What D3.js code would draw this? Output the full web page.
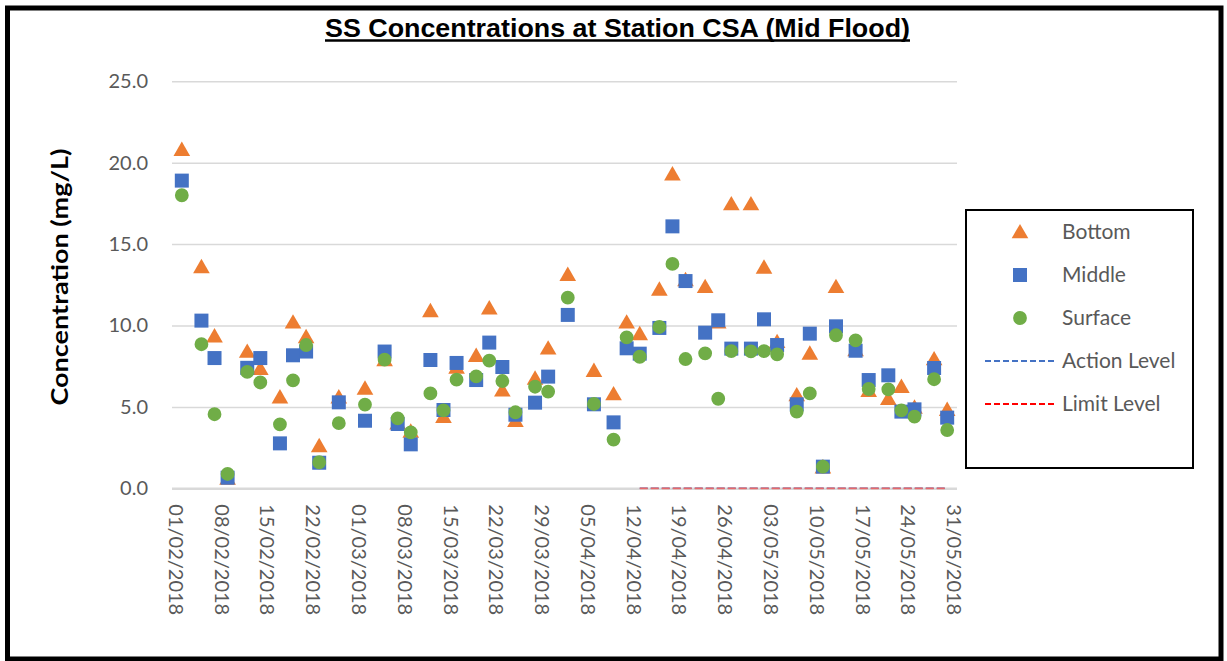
<!DOCTYPE html>
<html>
<head>
<meta charset="utf-8">
<script src="https://cdn.jsdelivr.net/npm/d3@7"></script>
<style>
  html, body { margin: 0; padding: 0; background: #fff; }
  svg { display: block; }
</style>
</head>
<body>
<svg id="chart" width="1227" height="661"></svg>
<script>
// Sampling dates (mid flood) and SS readings in mg/L at each depth
const sampleDates = [
  "02/02/2018","05/02/2018","07/02/2018","09/02/2018","12/02/2018","14/02/2018",
  "17/02/2018","19/02/2018","21/02/2018","23/02/2018","26/02/2018","02/03/2018",
  "05/03/2018","07/03/2018","09/03/2018","12/03/2018","14/03/2018","16/03/2018",
  "19/03/2018","21/03/2018","23/03/2018","25/03/2018","28/03/2018","30/03/2018",
  "02/04/2018","06/04/2018","09/04/2018","11/04/2018","13/04/2018","16/04/2018",
  "18/04/2018","20/04/2018","23/04/2018","25/04/2018","27/04/2018","30/04/2018",
  "02/05/2018","04/05/2018","07/05/2018","09/05/2018","11/05/2018","13/05/2018",
  "16/05/2018","18/05/2018","21/05/2018","23/05/2018","25/05/2018","28/05/2018",
  "30/05/2018"
];
const bottomValues = [
  20.8, 13.6, 9.35, 0.6, 8.4, 7.35,
  5.6, 10.2, 9.3, 2.6, 5.6, 6.14,
  7.88, 4.0, 3.5, 10.9, 4.4, 7.43,
  8.15, 11.07, 6.02, 4.15, 6.75, 8.6,
  13.12, 7.23, 5.79, 10.2, 9.48, 12.22,
  19.3, 12.8, 12.38, 10.2, 17.46, 17.46,
  13.57, 9.0, 5.73, 8.29, 1.3, 12.38,
  8.5, 6.0, 5.5, 6.24, 4.97, 7.94,
  4.83
];
const middleValues = [
  18.9, 10.3, 8.0, 0.65, 7.4, 8.0,
  2.76, 8.17, 8.4, 1.57, 5.28, 4.15,
  8.4, 3.95, 2.7, 7.88, 4.81, 7.7,
  6.65, 8.95, 7.45, 4.52, 5.26, 6.86,
  10.65, 5.16, 4.05, 8.6, 8.27, 9.85,
  16.09, 12.73, 9.56, 10.32, 8.58, 8.58,
  10.38, 8.8, 5.16, 9.5, 1.33, 9.95,
  8.45, 6.65, 6.94, 4.71, 4.85, 7.39,
  4.34
];
const surfaceValues = [
  18.0, 8.85, 4.55, 0.88, 7.15, 6.5,
  3.93, 6.63, 8.8, 1.6, 4.0, 5.14,
  7.9, 4.3, 3.44, 5.83, 4.79, 6.67,
  6.88, 7.84, 6.59, 4.67, 6.24, 5.94,
  11.71, 5.18, 2.99, 9.27, 8.08, 9.91,
  13.78, 7.94, 8.29, 5.5, 8.43, 8.41,
  8.43, 8.23, 4.71, 5.83, 1.33, 9.4,
  9.09, 6.1, 6.08, 4.79, 4.4, 6.7,
  3.58
];

// Compliance criteria series (plotted from 13/04 onwards)
const levelDates = ["13/04/2018", "30/05/2018"];
const actionLevelValues = [0, 0];
const limitLevelValues = [0, 0];

// Axis settings
const axisStart = "01/02/2018";
const axisEnd = "01/06/2018";
const tickDates = [
  "01/02/2018","08/02/2018","15/02/2018","22/02/2018","01/03/2018","08/03/2018",
  "15/03/2018","22/03/2018","29/03/2018","05/04/2018","12/04/2018","19/04/2018",
  "26/04/2018","03/05/2018","10/05/2018","17/05/2018","24/05/2018","31/05/2018"
];
const yTicks = [0, 5, 10, 15, 20, 25];

const chartTitle = "SS Concentrations at Station CSA (Mid Flood)";
const yTitle = "Concentration (mg/L)";

const parse = d3.timeParse("%d/%m/%Y");
// each day occupies one slot; marks sit at the middle of their day
const mid = s => d3.timeHour.offset(parse(s), 12);

const svg = d3.select("#chart");
const grey = "#595959";
const labelFont = "Lato, 'Open Sans', sans-serif";

const x = d3.scaleTime()
  .domain([parse(axisStart), parse(axisEnd)])
  .range([172, 957]);
const y = d3.scaleLinear()
  .domain([0, 25])
  .range([488.3, 81.3]);

// outer frame
svg.append("rect")
  .attr("x", 7.5).attr("y", 8)
  .attr("width", 1213.5).attr("height", 651)
  .attr("fill", "#fff")
  .attr("stroke", "#000").attr("stroke-width", 5);

// title (condensed bold, underlined)
svg.append("text")
  .attr("x", 325).attr("y", 37)
  .attr("textLength", 585).attr("lengthAdjust", "spacingAndGlyphs")
  .attr("font-family", "'Liberation Sans Narrow', 'Arial Narrow', 'Liberation Sans', Arial, sans-serif")
  .attr("font-weight", "bold").attr("font-size", 26)
  .attr("fill", "#000")
  .text(chartTitle);
svg.append("line")
  .attr("x1", 325).attr("x2", 910)
  .attr("y1", 40.5).attr("y2", 40.5)
  .attr("stroke", "#000").attr("stroke-width", 2.4);

// horizontal gridlines
const yAxis = d3.axisLeft(y).tickValues(yTicks)
  .tickSize(-(x.range()[1] - x.range()[0]))
  .tickPadding(24)
  .tickFormat(d3.format(".1f"));
const gy = svg.append("g").attr("transform", `translate(${x.range()[0]},0)`).call(yAxis);
gy.select(".domain").remove();
gy.selectAll(".tick line")
  .attr("stroke", "#d9d9d9")
  .attr("stroke-width", d => d === 0 ? 2.5 : 1.5);
gy.selectAll(".tick text")
  .attr("font-family", labelFont)
  .attr("font-size", 20)
  .attr("fill", grey);

// y axis title
svg.append("text")
  .attr("transform", "translate(60,277) rotate(-90)")
  .attr("text-anchor", "middle")
  .attr("dy", "0.35em")
  .attr("textLength", 257).attr("lengthAdjust", "spacingAndGlyphs")
  .attr("font-family", labelFont)
  .attr("font-weight", "bold").attr("font-size", 23)
  .attr("fill", "#000")
  .text(yTitle);

// x axis date labels, rotated to read downward
const xAxis = d3.axisBottom(x)
  .tickValues(tickDates.map(mid))
  .tickSize(0)
  .tickFormat(d3.timeFormat("%d/%m/%Y"));
const gx = svg.append("g").attr("transform", `translate(0,${y(0)})`).call(xAxis);
gx.select(".domain").remove();
gx.selectAll(".tick text")
  .attr("font-family", labelFont)
  .attr("font-size", 20)
  .attr("fill", grey)
  .attr("text-anchor", "start")
  .attr("transform", "translate(0,16) rotate(90)")
  .attr("x", 0).attr("y", 0)
  .attr("dy", "0.35em");

// compliance level lines (limit drawn over action)
const levelLine = d3.line().x(d => x(mid(d.date))).y(d => y(d.v));
const actionData = levelDates.map((dt, i) => ({ date: dt, v: actionLevelValues[i] }));
const limitData = levelDates.map((dt, i) => ({ date: dt, v: limitLevelValues[i] }));
svg.append("path").datum(actionData)
  .attr("d", levelLine).attr("fill", "none")
  .attr("stroke", "#4472C4").attr("stroke-width", 1.5)
  .attr("stroke-dasharray", "8,3");
svg.append("path").datum(limitData)
  .attr("d", levelLine).attr("fill", "none")
  .attr("stroke", "#e8686a").attr("stroke-width", 1.8)
  .attr("stroke-dasharray", "8,3");

// markers
const series = [
  { name: "Bottom", values: bottomValues, color: "#ED7D31", shape: d3.symbolTriangle, size: 120 },
  { name: "Middle", values: middleValues, color: "#4472C4", shape: d3.symbolSquare, size: 196 },
  { name: "Surface", values: surfaceValues, color: "#70AD47", shape: d3.symbolCircle, size: 150 }
];

series.forEach(s => {
  const sym = d3.symbol().type(s.shape).size(s.size);
  svg.append("g").selectAll("path")
    .data(sampleDates.map((dt, i) => ({ date: mid(dt), v: s.values[i] })))
    .join("path")
    .attr("d", sym)
    .attr("transform", d => {
      const dy = s.shape === d3.symbolTriangle ? 1.5 : 0;
      return `translate(${x(d.date)},${y(d.v) + dy})`;
    })
    .attr("fill", s.color);
});

// legend
const lg = svg.append("g");
lg.append("rect")
  .attr("x", 966).attr("y", 210)
  .attr("width", 227).attr("height", 258)
  .attr("fill", "#fff").attr("stroke", "#000").attr("stroke-width", 2);

const legendRows = [
  { label: "Bottom", kind: "symbol", s: series[0], y: 232 },
  { label: "Middle", kind: "symbol", s: series[1], y: 275 },
  { label: "Surface", kind: "symbol", s: series[2], y: 318 },
  { label: "Action Level", kind: "line", color: "#4472C4", y: 361 },
  { label: "Limit Level", kind: "line", color: "#FF0000", y: 404 }
];
legendRows.forEach(r => {
  if (r.kind === "symbol") {
    const dy = r.s.shape === d3.symbolTriangle ? 1.5 : 0;
    lg.append("path")
      .attr("d", d3.symbol().type(r.s.shape).size(r.s.size)())
      .attr("transform", `translate(1020,${r.y + dy})`)
      .attr("fill", r.s.color);
  } else {
    lg.append("line")
      .attr("x1", 985).attr("x2", 1055)
      .attr("y1", r.y).attr("y2", r.y)
      .attr("stroke", r.color).attr("stroke-width", 2)
      .attr("stroke-dasharray", "6,3");
  }
  lg.append("text")
    .attr("x", 1062).attr("y", r.y)
    .attr("dy", "0.35em")
    .attr("font-family", labelFont)
    .attr("font-size", 21)
    .attr("fill", grey)
    .text(r.label);
});
</script>
</body>
</html>
